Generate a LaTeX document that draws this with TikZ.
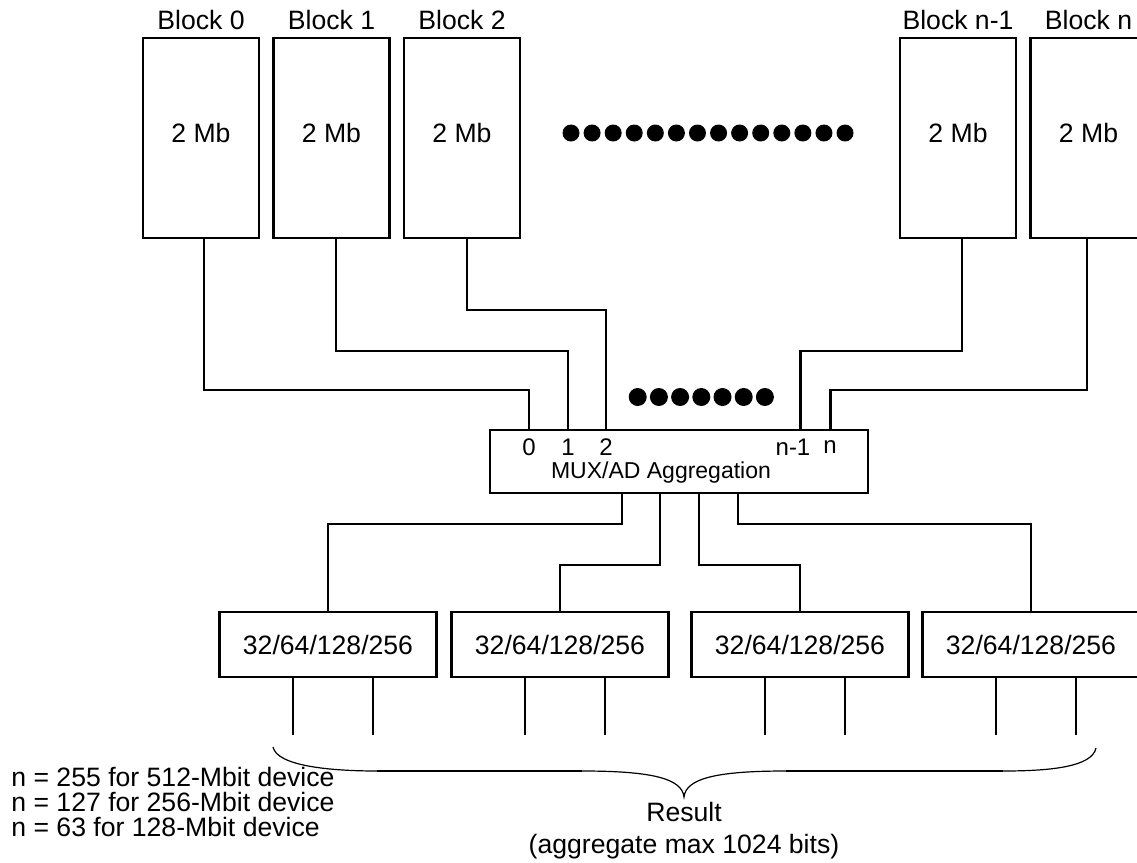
\documentclass[tikz,border=0pt]{standalone}
\usepackage{fontspec}
\setmainfont{Liberation Sans}
\usetikzlibrary{positioning}
\tikzset{
  memblk/.style  ={draw,line width=1.1pt,outer sep=0pt,inner sep=0pt,minimum width=58pt,
                   minimum height=100pt,text depth=5pt,font=\fontsize{13.3}{16}\selectfont},
  blklbl/.style  ={inner sep=0pt,font=\fontsize{13.3}{16}\selectfont},
  muxbox/.style  ={draw,line width=1.1pt,outer sep=0pt,minimum width=189pt,minimum height=31.5pt},
  pinlbl/.style  ={inner sep=0pt,font=\fontsize{12}{14}\selectfont},
  widthbox/.style={draw,line width=1.1pt,outer sep=0pt,minimum width=108.5pt,
                   minimum height=32.5pt,font=\fontsize{13.3}{16}\selectfont},
  wire/.style    ={line width=1.1pt},
  bracewire/.style={line width=0.6pt}
}
\begin{document}
\begin{tikzpicture}[x=0.5pt,y=-0.5pt,node distance=7.25pt]
  \useasboundingbox (0,0) rectangle (1137,863);
  % memory blocks
  \node[memblk] (blk0) at (201,138) {2 Mb};
  \node[memblk,right=of blk0] (blk1) {2 Mb};
  \node[memblk,right=of blk1] (blk2) {2 Mb};
  \node[memblk] (blkn1) at (958,138) {2 Mb};
  \node[memblk,right=of blkn1] (blkn) {2 Mb};
  \node[blklbl,above=4pt of blk0] (lbl0) {Block 0};
  \node[blklbl,above=4pt of blk1] (lbl1) {Block 1};
  \node[blklbl,above=4pt of blk2] (lbl2) {Block 2};
  \node[blklbl,above=4pt of blkn1] (lbln1) {Block n-1};
  \node[blklbl,above=4pt of blkn] (lbln) {Block n};
  \foreach \i in {0,...,13}
    \fill (571+21.08*\i,133) circle (4.25pt);
  % aggregation
  \node[muxbox] (mux) at (679,461.5) {};
  \coordinate (in0) at (529,430);
  \coordinate (in1) at (568,430);
  \coordinate (in2) at (606,430);
  \coordinate (inn1) at (800.5,430);
  \coordinate (inn) at (830.5,430);
  \node[pinlbl] (pin0) at (529,447) {0};
  \node[pinlbl] (pin1) at (568,447) {1};
  \node[pinlbl] (pin2) at (606,447) {2};
  \node[pinlbl] (pinn1) at (793,447) {n-1};
  \node[pinlbl] (pinn) at (830,447) {n};
  \node[inner sep=0pt,font=\fontsize{11.5}{14}\selectfont] (aggtxt) at (661,473) {MUX/AD Aggregation};
  \draw[wire] ([xshift=1.5pt]blk0.south) -- ++(0,152) -| (in0);
  \draw[wire] ([xshift=2.25pt]blk1.south) -- ++(0,113) -| (in1);
  \draw[wire] ([xshift=2.5pt]blk2.south) -- ++(0,72) -| (in2);
  \draw[wire] ([xshift=2pt]blkn1.south) -- ++(0,113) -| (inn1);
  \draw[wire] ([xshift=-0.75pt]blkn.south) -- ++(0,152) -| (inn);
  \foreach \i in {0,...,6}
    \fill (637.7+21.2*\i,397) circle (4.5pt);
  % output widths
  \node[widthbox] (wid1) at (328,644.5) {32/64/128/256};
  \node[widthbox] (wid2) at (560,644.5) {32/64/128/256};
  \node[widthbox] (wid3) at (800,644.5) {32/64/128/256};
  \node[widthbox] (wid4) at (1031,644.5) {32/64/128/256};
  \coordinate (out1) at (622,493);
  \coordinate (out2) at (660,493);
  \coordinate (out3) at (699,493);
  \coordinate (out4) at (738,493);
  \draw[wire] (out1) -- ++(0,31) -| (wid1.north);
  \draw[wire] (out2) -- ++(0,72) -| (wid2.north);
  \draw[wire] (out3) -- ++(0,72) -| (wid3.north);
  \draw[wire] (out4) -- ++(0,31) -| (wid4.north);
  \foreach \b in {wid1,wid2,wid3,wid4}{
    \draw[wire] ([xshift=-17.5pt]\b.south) -- ++(0,58);
    \draw[wire] ([xshift=22.5pt]\b.south) -- ++(0,58);
  }
  % brace
  \coordinate (brl) at (273,747);
  \coordinate (brtip) at (684,797);
  \coordinate (brr) at (1096,748);
  \draw[bracewire] (brl) .. controls (277,766) and (330,771) .. (377,771);
  \draw[wire] (377,771) -- (582,771);
  \draw[bracewire] (582,771) .. controls (650,771) and (682,778) .. (brtip)
    .. controls (686,778) and (718,771) .. (786,771);
  \draw[wire] (786,771) -- (1003,771);
  \draw[bracewire] (1003,771) .. controls (1050,771) and (1092,767) .. (brr);
  \node[anchor=west,align=left,inner sep=0pt,font=\fontsize{13.3}{12.5}\selectfont] (devnote)
    at (11,802) {n = 255 for 512-Mbit device\\n = 127 for 256-Mbit device\\n = 63 for 128-Mbit device};
  \node[align=center,inner sep=0pt,font=\fontsize{13.3}{16}\selectfont] (result)
    at (684,831) {Result\\(aggregate max 1024 bits)};
\end{tikzpicture}
\end{document}
